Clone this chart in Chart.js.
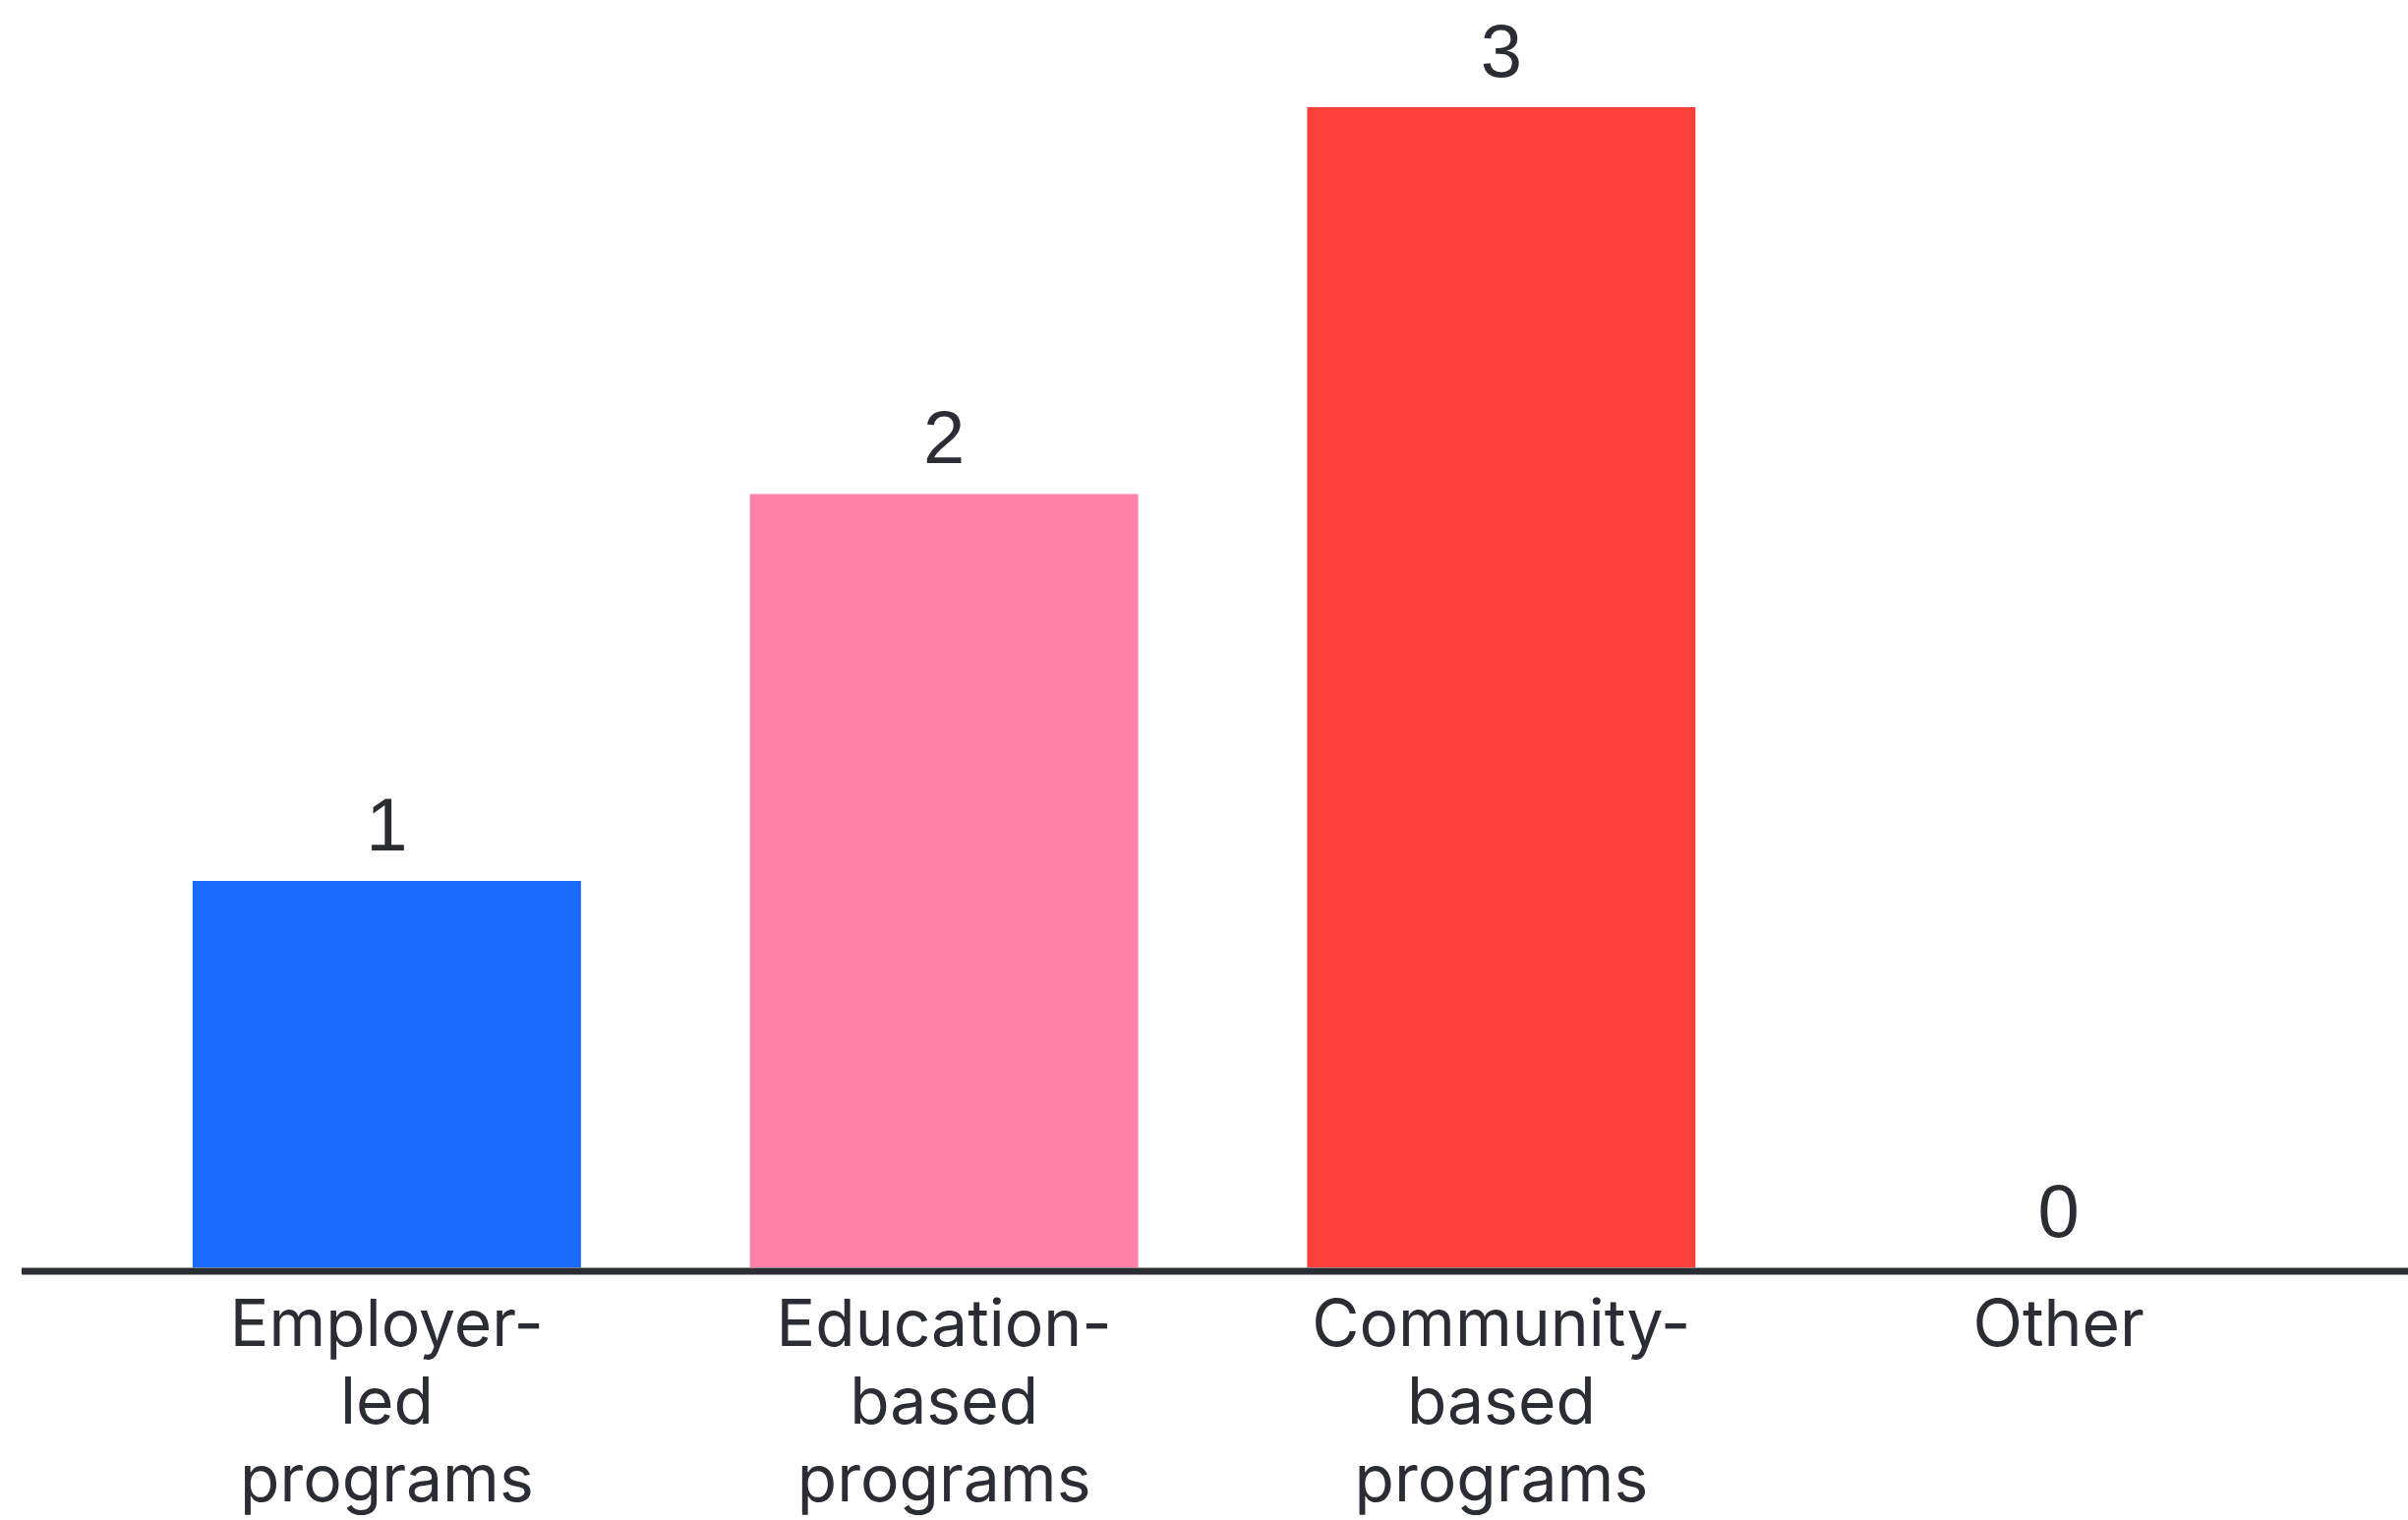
<!DOCTYPE html>
<html>
<head>
<meta charset="utf-8">
<script src="https://cdn.jsdelivr.net/npm/chart.js@4.4.0/dist/chart.umd.min.js"></script>
<style>
  html, body { margin: 0; padding: 0; background: #ffffff; }
  #wrap { width: 2449px; height: 1546px; }
</style>
</head>
<body>
<div id="wrap"><canvas id="grafico" width="2449" height="1546"></canvas></div>
<script>
const categorias = [
  ["Employer-", "led", "programs"],
  ["Education-", "based", "programs"],
  ["Community-", "based", "programs"],
  "Other"
];
const valores = [1, 2, 3, 0];
const colores = ["#1c6bfe", "#fe82aa", "#fe403d", "#999999"];
const colorTexto = "#2a2d34";

// etiquetas de valor encima de cada barra
const etiquetasValor = {
  id: "etiquetasValor",
  afterDatasetsDraw(chart) {
    const ctx = chart.ctx;
    const meta = chart.getDatasetMeta(0);
    ctx.save();
    ctx.fillStyle = colorTexto;
    ctx.font = "76px 'Liberation Sans', Arial, sans-serif";
    ctx.textAlign = "center";
    ctx.textBaseline = "alphabetic";
    meta.data.forEach((bar, i) => {
      ctx.fillText(String(valores[i]), bar.x, bar.y - 31);
    });
    ctx.restore();
  }
};

// linea base que cruza todo el ancho
const lineaBase = {
  id: "lineaBase",
  afterDraw(chart) {
    const ctx = chart.ctx;
    const y = chart.scales.y.getPixelForValue(0) + 3.5;
    ctx.save();
    ctx.strokeStyle = "#2a2d34";
    ctx.lineWidth = 7;
    ctx.beginPath();
    ctx.moveTo(22, y);
    ctx.lineTo(chart.width, y);
    ctx.stroke();
    ctx.restore();
  }
};

const ctx = document.getElementById("grafico").getContext("2d");
new Chart(ctx, {
  type: "bar",
  data: {
    labels: categorias,
    datasets: [{
      data: valores,
      backgroundColor: colores,
      borderWidth: 0,
      categoryPercentage: 1,
      barPercentage: 0.697
    }]
  },
  options: {
    responsive: false,
    animation: false,
    layout: { padding: { top: 109, left: 110, right: 72, bottom: -21 } },
    plugins: {
      legend: { display: false },
      tooltip: { enabled: false }
    },
    scales: {
      x: {
        grid: { display: false, drawTicks: false },
        border: { display: false },
        ticks: {
          padding: 20,
          color: colorTexto,
          font: { family: "Inter, 'Noto Sans', sans-serif", size: 66, lineHeight: 1.2 }
        }
      },
      y: {
        display: false,
        min: 0,
        max: 3
      }
    }
  },
  plugins: [etiquetasValor, lineaBase]
});
</script>
</body>
</html>
